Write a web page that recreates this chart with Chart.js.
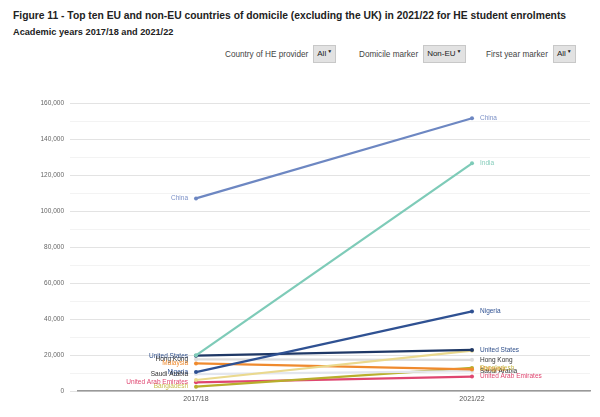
<!DOCTYPE html>
<html><head><meta charset="utf-8">
<script src="https://cdn.jsdelivr.net/npm/chart.js@4/dist/chart.umd.min.js"></script>
<style>
html,body{margin:0;padding:0;background:#fff;width:600px;height:417px;overflow:hidden;font-family:"Liberation Sans",Arial,sans-serif;}
#t1{position:absolute;left:13px;top:10px;font-size:10.3px;font-weight:bold;color:#222;white-space:nowrap;}
#t2{position:absolute;left:13px;top:27px;font-size:9.2px;font-weight:bold;color:#222;white-space:nowrap;}
.f{position:absolute;top:45px;font-size:8.2px;color:#444;white-space:nowrap;display:flex;align-items:center;}
.b{display:inline-block;margin-left:5px;background:#e2e2e2;border:1px solid #c8c8c8;height:16px;line-height:16px;padding:0 3px;font-size:8px;color:#222;}
.b sup{font-size:5px;vertical-align:top;line-height:10px;margin-left:1px;}
#wrap{position:absolute;left:0;top:90px;width:600px;height:327px;}
</style></head><body>
<div id="t1">Figure 11 - Top ten EU and non-EU countries of domicile (excluding the UK) in 2021/22 for HE student enrolments</div>
<div id="t2">Academic years 2017/18 and 2021/22</div>
<div class="f" style="left:225px">Country of HE provider<span class="b">All<sup>▼</sup></span></div>
<div class="f" style="left:359px">Domicile marker<span class="b">Non-EU<sup>▼</sup></span></div>
<div class="f" style="left:486px">First year marker<span class="b">All<sup>▼</sup></span></div>
<div id="wrap"><canvas id="c"></canvas></div>
<script>
const years = ['2017/18', '2021/22'];
const countries = ['China','India','Nigeria','United States','Pakistan','Hong Kong','Malaysia','Saudi Arabia','Bangladesh','United Arab Emirates'];
const v2017 = [107000, 19800, 10500, 19600, 6100, 17600, 15300, 9400, 2400, 4800];
const v2022 = [151500, 126500, 44200, 22800, 22400, 17300, 12000, 11000, 12800, 8000];
const yTicks = [0, 20000, 40000, 60000, 80000, 100000, 120000, 140000, 160000];
const lineColors = ['#6d87c2','#7ecbb8','#2f5192','#1f3866','#ead98e','#dcdcdc','#ef8a2e','#e3e6ee','#b8ae2c','#df4670'];
const labelColors = ['#7b90c6','#86cdbb','#2f5192','#2f4f8a','#ccb860','#333333','#ef8a2e','#333333','#c9bb4c','#df4670'];
const showLeft = [true,false,true,true,false,true,true,true,true,true];
const showRight = [true,true,true,true,false,true,true,true,true,true];

const datasets = countries.map((c, i) => ({
  label: c,
  data: [{x:0, y:v2017[i]}, {x:1, y:v2022[i]}],
  borderColor: lineColors[i],
  backgroundColor: lineColors[i],
  borderWidth: 2.2,
  pointRadius: 2,
  pointBorderWidth: 0,
  pointHoverRadius: 2,
  order: i
}));

const labelPlugin = {
  id: 'endLabels',
  afterDatasetsDraw(chart) {
    const ctx = chart.ctx;
    ctx.save();
    ctx.font = '6.5px "Liberation Sans", Arial, sans-serif';
    ctx.textBaseline = 'middle';
    chart.data.datasets.forEach((ds, i) => {
      const meta = chart.getDatasetMeta(i);
      const p0 = meta.data[0], p1 = meta.data[1];
      ctx.fillStyle = labelColors[i];
      if (showLeft[i]) { ctx.textAlign = 'right'; ctx.fillText(countries[i], p0.x - 8, p0.y); }
      if (showRight[i]) { ctx.textAlign = 'left'; ctx.fillText(countries[i], p1.x + 8, p1.y); }
    });
    ctx.restore();
  }
};

new Chart(document.getElementById('c'), {
  type: 'line',
  data: { datasets },
  plugins: [labelPlugin],
  options: {
    responsive: true,
    maintainAspectRatio: false,
    animation: false,
    layout: { padding: { top: 13, right: 10, left: 0, bottom: 0 } },
    plugins: { legend: { display: false }, tooltip: { enabled: false } },
    scales: {
      x: {
        type: 'linear',
        min: -0.4275,
        max: 1.4275,
        afterBuildTicks(s) { s.ticks = [{value:0},{value:1}]; },
        afterFit(s) { s.height = 26; },
        ticks: {
          callback: (v) => years[v] !== undefined ? years[v] : '',
          font: { size: 7, family: '"Liberation Sans", Arial, sans-serif' },
          color: '#555',
          padding: 4
        },
        grid: { display: false, drawTicks: false },
        border: { display: true, color: '#999', width: 1.5 }
      },
      y: {
        min: 0,
        max: 160000,
        afterBuildTicks(s) {
          const t = [];
          for (let v = 0; v <= 160000; v += 10000) t.push({value: v});
          s.ticks = t;
        },
        afterFit(s) { s.width = 78; },
        ticks: {
          callback: (v) => yTicks.includes(v) ? v.toLocaleString('en-US') : '',
          font: { size: 6.5, family: '"Liberation Sans", Arial, sans-serif' },
          color: '#666',
          padding: 6,
          autoSkip: false
        },
        grid: {
          color: (c) => (c.tick && c.tick.value % 20000 === 0) ? '#e3e3e3' : '#f3f3f3',
          tickLength: 8,
          lineWidth: 1
        },
        border: { display: false }
      }
    }
  }
});
</script>
</body></html>
